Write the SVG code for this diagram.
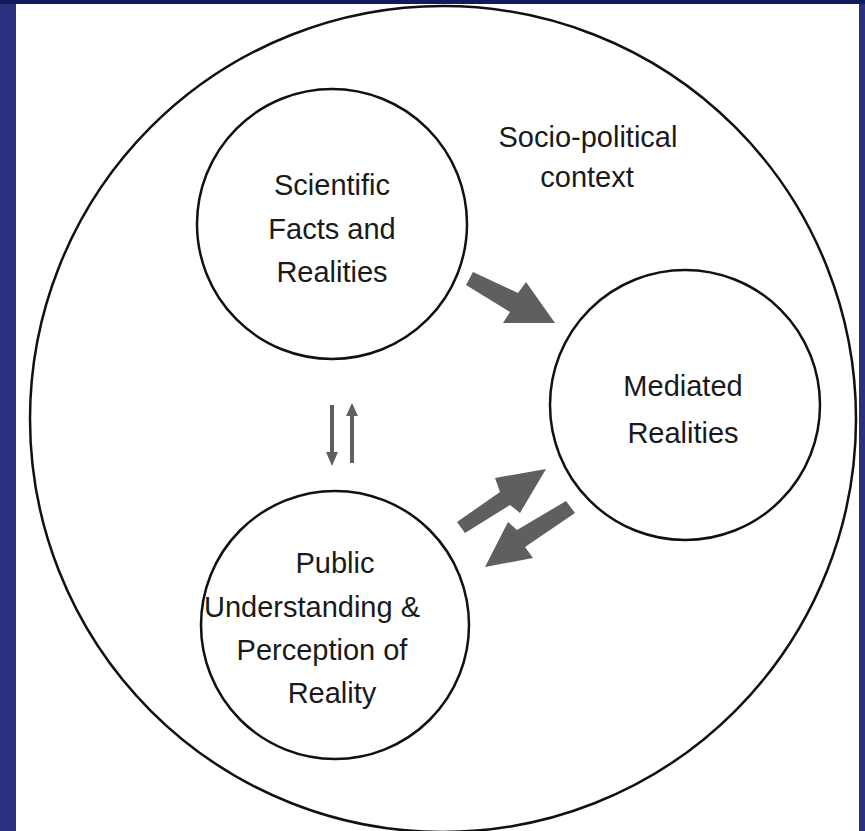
<svg xmlns="http://www.w3.org/2000/svg" width="865" height="831" viewBox="0 0 865 831">
<style>
.ring{fill:none;stroke:#111;stroke-width:2.5}
.lbl{font-family:"Liberation Sans",Arial,sans-serif;font-size:29px;fill:#1a1a1a;text-anchor:middle}
.big{fill:#5f5f5f}
.thin{stroke:#5f5f5f;stroke-width:4;fill:none}
.head{fill:#5f5f5f}
</style>
<rect x="0" y="0" width="865" height="831" fill="#29307e"/>
<rect x="0" y="0" width="865" height="4" fill="#111a5c"/>
<rect x="16" y="4" width="843" height="827" fill="#ffffff"/>
<g id="context">
<ellipse class="ring" cx="443" cy="419" rx="413" ry="413"/>
<text class="lbl" x="588" y="147">Socio-political</text>
<text class="lbl" x="587" y="187">context</text>
</g>
<g id="scientific">
<circle class="ring" cx="332" cy="224" r="135"/>
<text class="lbl" x="332" y="195">Scientific</text>
<text class="lbl" x="332" y="239">Facts and</text>
<text class="lbl" x="332" y="282">Realities</text>
</g>
<g id="mediated">
<circle class="ring" cx="685" cy="405" r="135"/>
<text class="lbl" x="683" y="396">Mediated</text>
<text class="lbl" x="683" y="443">Realities</text>
</g>
<g id="public">
<circle class="ring" cx="335" cy="625" r="134"/>
<text class="lbl" x="335" y="573">Public</text>
<text class="lbl" x="312" y="617">Understanding &amp;</text>
<text class="lbl" x="322" y="660">Perception of</text>
<text class="lbl" x="332" y="703">Reality</text>
</g>
<g id="connectors">
<polygon class="big" points="473,272 518,293 526,282 555,323 503,323 510,312 466,285"/>
<polygon class="big" points="457,522 500,492 495,478 546,469 520,513 510,505 465,533"/>
<polygon class="big" points="566,501 575,513 525,547 533,558 485,567 508,522 517,530"/>
<line class="thin" x1="332" y1="405" x2="332" y2="453"/>
<polygon class="head" points="326,452 338,452 332,466"/>
<line class="thin" x1="352" y1="463" x2="352" y2="415"/>
<polygon class="head" points="346,416 358,416 352,403"/>
</g>
</svg>
